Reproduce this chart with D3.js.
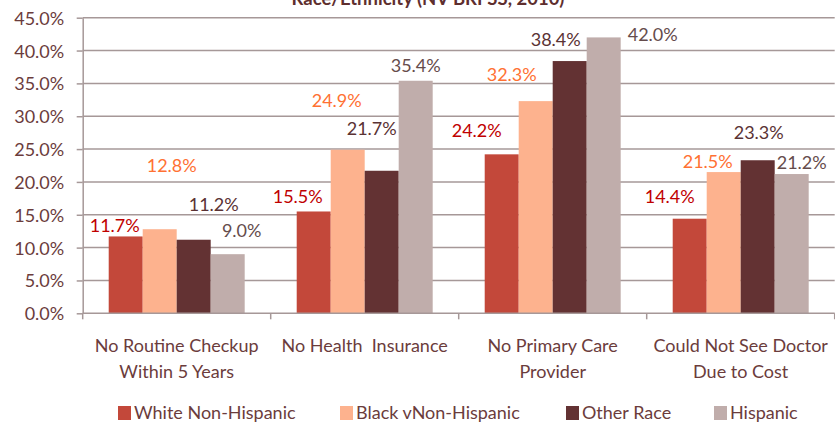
<!DOCTYPE html>
<html>
<head>
<meta charset="utf-8">
<script src="https://cdn.jsdelivr.net/npm/d3@7"></script>
<style>
  html, body { margin: 0; padding: 0; background: #fff; }
  svg { display: block; }
  text { font-family: Lato, "Open Sans", sans-serif; }
</style>
</head>
<body>
<svg id="chart" width="835" height="429"></svg>
<script>
// ---- data ----
const title = "Race/Ethnicity (NV BRFSS, 2010)";
const categories = [
  ["No Routine Checkup", "Within 5 Years"],
  ["No Health  Insurance"],
  ["No Primary Care", "Provider"],
  ["Could Not See Doctor", "Due to Cost"]
];
const seriesNames = ["White Non-Hispanic", "Black vNon-Hispanic", "Other Race", "Hispanic"];
const whiteNonHispanic = [11.7, 15.5, 24.2, 14.4];
const blackNonHispanic = [12.8, 24.9, 32.3, 21.5];
const otherRace = [11.2, 21.7, 38.4, 23.3];
const hispanic = [9.0, 35.4, 42.0, 21.2];
const yTicks = [0, 5, 10, 15, 20, 25, 30, 35, 40, 45];

// ---- styles ----
const barColors = ["#C3483A", "#FDB28E", "#633233", "#C0ADAB"];
const labelColors = ["#C00000", "#FF7133", "#5A3234", "#654C4C"];
const textColor = "#6B3C3C";
const gridColor = "#A69898";
// manual data-label offsets [dx, dy] relative to bar centre / bar top (per category, per series)
const labelOffsets = [
  [[-11, -4.4], [12, -57], [20, -29], [14, -17]],
  [[-16, -8.5], [-11, -43], [-10, -36], [0, -8.4]],
  [[-25, -17.6], [-24, -20], [-14, -15.3], [49, 3.3]],
  [[-20, -15.4], [-16, -3.7], [1, -21], [10, -4.7]]
];

const allSeries = [whiteNonHispanic, blackNonHispanic, otherRace, hispanic];
const svg = d3.select("#chart");

const plot = { left: 82.7, right: 834.7, top: 17.7, bottom: 313.3 };
const catKeys = categories.map((c, i) => i);
const x = d3.scaleBand().domain(catKeys).range([plot.left, plot.right]).padding(0);
const xs = d3.scaleBand().domain(d3.range(seriesNames.length))
  .range([0, x.bandwidth()]).paddingInner(0).paddingOuter(0.765);
const y = d3.scaleLinear().domain([0, 45]).range([plot.bottom, plot.top]);

// title (partly clipped at top, as in the reference)
svg.append("text")
  .attr("x", 428).attr("y", 5)
  .attr("text-anchor", "middle")
  .attr("font-weight", "bold")
  .attr("font-size", 18.5)
  .attr("fill", "#5E2E2E")
  .text(title);

// gridlines
svg.append("g")
  .selectAll("line")
  .data(yTicks.filter(t => t > 0))
  .join("line")
  .attr("x1", plot.left).attr("x2", plot.right)
  .attr("y1", d => y(d)).attr("y2", d => y(d))
  .attr("stroke", gridColor).attr("stroke-width", 1.5);

// y axis
const yAxis = d3.axisLeft(y).tickValues(yTicks).tickSize(6).tickSizeOuter(0)
  .tickFormat(d => d.toFixed(1) + "%");
const gy = svg.append("g").attr("transform", `translate(${plot.left},0)`).call(yAxis);
gy.select(".domain").attr("stroke", gridColor).attr("stroke-width", 1.5);
gy.selectAll(".tick line").attr("stroke", gridColor).attr("stroke-width", 1.5);
gy.selectAll(".tick text")
  .attr("x", -18.5)
  .attr("dy", "0.36em")
  .attr("font-size", 18)
  .attr("fill", textColor)
  .attr("font-family", "Lato, sans-serif");

// bars
const barData = [];
catKeys.forEach(ci => {
  allSeries.forEach((s, si) => barData.push({ ci, si, v: s[ci] }));
});
svg.append("g")
  .selectAll("rect")
  .data(barData)
  .join("rect")
  .attr("x", d => x(d.ci) + xs(d.si))
  .attr("width", xs.bandwidth())
  .attr("y", d => y(d.v))
  .attr("height", d => y(0) - y(d.v))
  .attr("fill", d => barColors[d.si]);

// x axis
const xAxisLine = svg.append("g");
xAxisLine.append("line")
  .attr("x1", plot.left).attr("x2", plot.right)
  .attr("y1", plot.bottom).attr("y2", plot.bottom)
  .attr("stroke", gridColor).attr("stroke-width", 1.5);
xAxisLine.selectAll("line.tk")
  .data(d3.range(categories.length + 1))
  .join("line")
  .attr("class", "tk")
  .attr("x1", i => plot.left + i * x.step()).attr("x2", i => plot.left + i * x.step())
  .attr("y1", plot.bottom).attr("y2", plot.bottom + 6)
  .attr("stroke", gridColor).attr("stroke-width", 1.5);

// category labels
const catG = svg.append("g");
catKeys.forEach(ci => {
  const t = catG.append("text")
    .attr("x", x(ci) + x.bandwidth() / 2)
    .attr("y", 352)
    .attr("text-anchor", "middle")
    .attr("font-size", 18)
    .attr("fill", textColor);
  categories[ci].forEach((line, li) => {
    t.append("tspan")
      .attr("x", x(ci) + x.bandwidth() / 2)
      .attr("dy", li === 0 ? 0 : 26)
      .attr("xml:space", "preserve")
      .style("white-space", "pre")
      .text(line);
  });
});

// data labels
svg.append("g")
  .selectAll("text")
  .data(barData)
  .join("text")
  .attr("x", d => x(d.ci) + xs(d.si) + xs.bandwidth() / 2 + labelOffsets[d.ci][d.si][0])
  .attr("y", d => y(d.v) + labelOffsets[d.ci][d.si][1])
  .attr("text-anchor", "middle")
  .attr("font-size", 18)
  .attr("fill", d => labelColors[d.si])
  .text(d => d.v.toFixed(1) + "%");

// legend
const legendX = [118, 340, 566, 714];
const lg = svg.append("g");
seriesNames.forEach((name, i) => {
  lg.append("rect")
    .attr("x", legendX[i]).attr("y", 406)
    .attr("width", 13).attr("height", 14)
    .attr("fill", barColors[i]);
  lg.append("text")
    .attr("x", legendX[i] + 16).attr("y", 419)
    .attr("font-size", 18)
    .attr("fill", textColor)
    .text(name);
});
</script>
</body>
</html>
